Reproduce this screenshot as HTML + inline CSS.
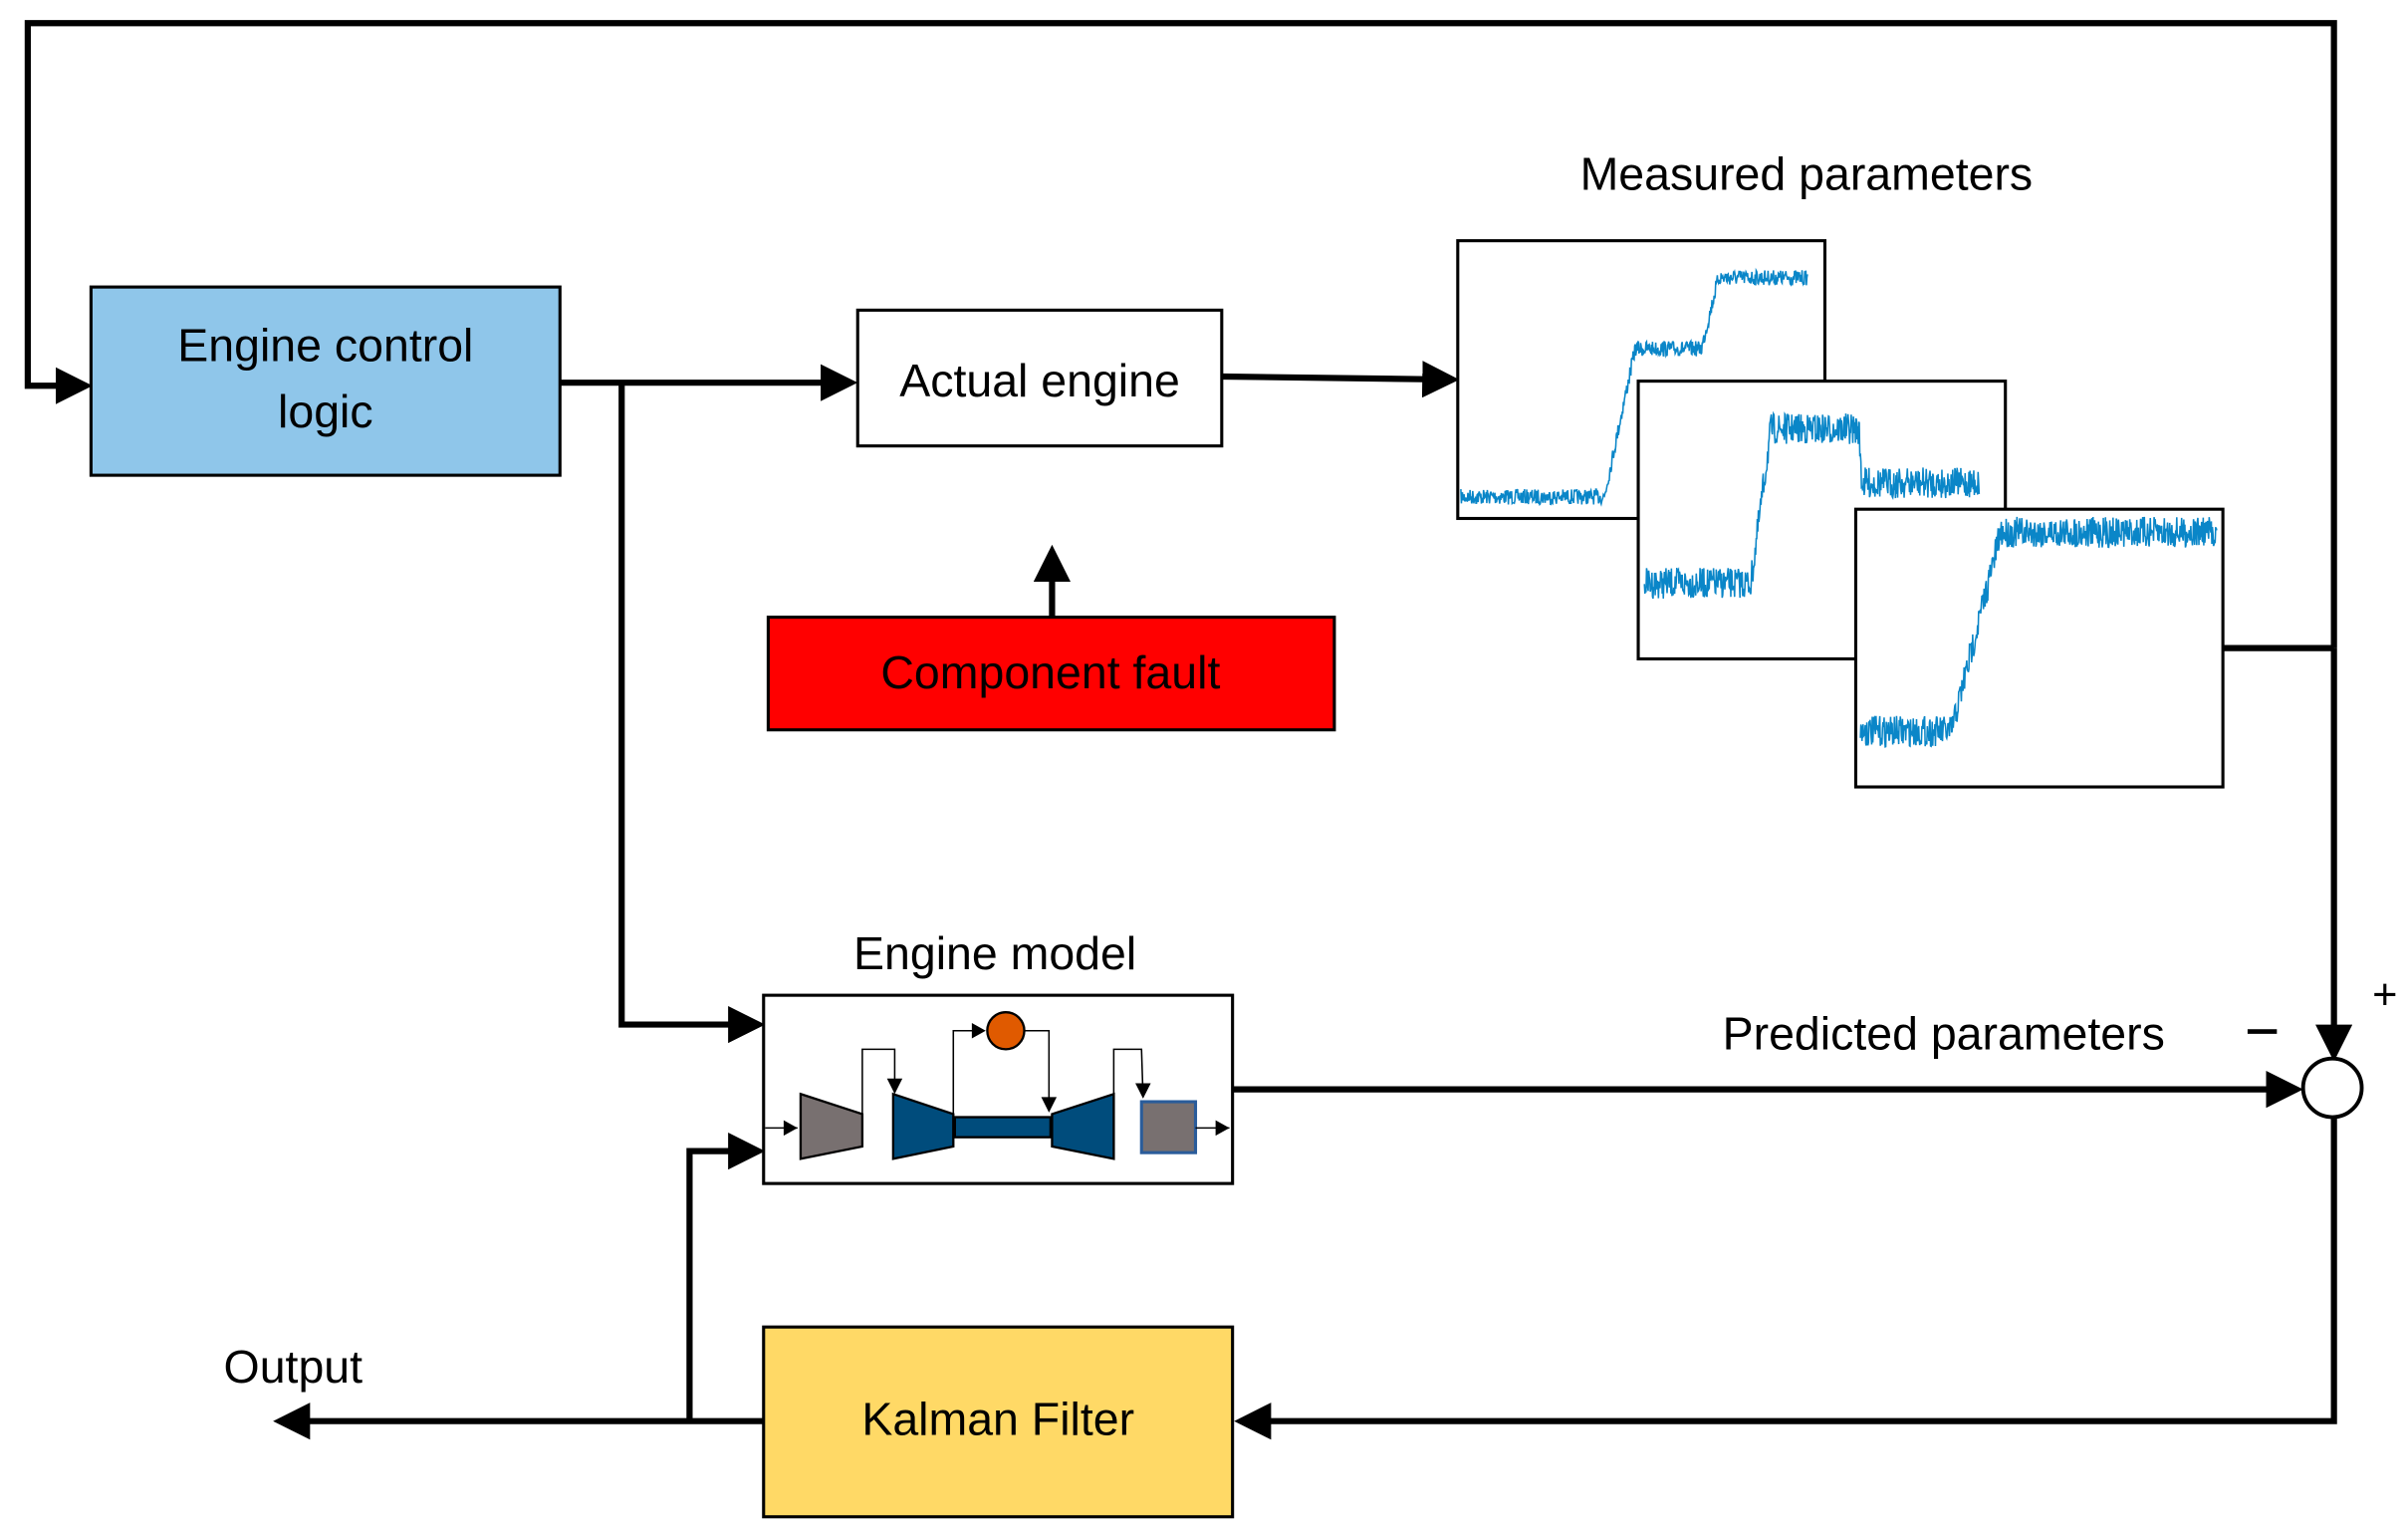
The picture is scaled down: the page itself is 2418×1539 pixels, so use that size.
<!DOCTYPE html>
<html><head><meta charset="utf-8"><style>
html,body{margin:0;padding:0;background:#fff;}
svg{display:block;}
text{font-family:"Liberation Sans","DejaVu Sans",sans-serif;fill:#000;}
</style></head><body>
<svg id="s" width="2418" height="1539" viewBox="0 0 1561 993.5" preserveAspectRatio="none" xmlns="http://www.w3.org/2000/svg">
<defs>
<marker id="a" markerWidth="6" markerHeight="6" refX="5" refY="3" orient="auto" markerUnits="strokeWidth"><path d="M0,0 L6,3 L0,6 z" fill="#000"/></marker>
</defs>
<g fill="none" stroke="#000" stroke-width="4">
<polyline points="1441,420 1513,420"/>
<polyline points="1513,420 1513,15 18,15 18,250 56,250" marker-end="url(#a)"/>
<polyline points="1513,420 1513,684" marker-end="url(#a)"/>
<polyline points="363,248 552,248" marker-end="url(#a)"/>
<polyline points="792,244 942,246" marker-end="url(#a)"/>
<polyline points="403,248 403,664 492,664" marker-end="url(#a)"/>
<polyline points="682,400 682,357" marker-end="url(#a)"/>
<polyline points="799,706 1489,706" marker-end="url(#a)"/>
<polyline points="1513,724 1513,921 804,921" marker-end="url(#a)"/>
<polyline points="495,921 181,921" marker-end="url(#a)"/>
<polyline points="447,921 447,746 492,746" marker-end="url(#a)"/>
</g>
<circle cx="1512" cy="705" r="19" fill="#fff" stroke="#000" stroke-width="2.5"/>
<rect x="59" y="186" width="304" height="122" fill="#8fc6ea" stroke="#000" stroke-width="2"/>
<text x="211" y="234" font-size="30" text-anchor="middle">Engine control</text>
<text x="211" y="277" font-size="30" text-anchor="middle">logic</text>
<rect x="556" y="201" width="236" height="88" fill="#fff" stroke="#000" stroke-width="2"/>
<text x="674" y="257" font-size="30" text-anchor="middle">Actual engine</text>
<rect x="498" y="400" width="367" height="73" fill="#ff0000" stroke="#000" stroke-width="2"/>
<text x="681" y="446" font-size="30" text-anchor="middle">Component fault</text>
<text x="1171" y="123" font-size="30" text-anchor="middle">Measured parameters</text>
<text x="645" y="628" font-size="30" text-anchor="middle">Engine model</text>
<text x="1260" y="680" font-size="30" text-anchor="middle">Predicted parameters</text>
<rect x="1457" y="667" width="19" height="3" fill="#000"/>
<text x="1546" y="654" font-size="28" text-anchor="middle">+</text>
<text x="190" y="896" font-size="30" text-anchor="middle">Output</text>
<rect x="495" y="860" width="304" height="123" fill="#ffd966" stroke="#000" stroke-width="2"/>
<text x="647" y="930" font-size="30" text-anchor="middle">Kalman Filter</text>
<!-- engine model -->
<rect x="495" y="645" width="304" height="122" fill="#fff" stroke="#000" stroke-width="2"/>
<g stroke="#000" stroke-width="1.5">
<polygon points="519,709 559,722 559,743 519,751" fill="#787070"/>
<polygon points="579,709 618,722 618,743 579,751" fill="#004c7c"/>
<rect x="619" y="724" width="62" height="13" fill="#004c7c"/>
<polygon points="682,722 722,709 722,751 682,743" fill="#004c7c"/>
<rect x="740" y="714" width="35" height="33" fill="#787070" stroke="#2a5c9a" stroke-width="2"/>
<circle cx="652" cy="668" r="12" fill="#e05a00"/>
</g>
<g stroke="#000" stroke-width="1" fill="none">
<polyline points="496,731 517,731"/>
<polyline points="559,722 559,680 580,680 580,708"/>
<polyline points="618,722 618,668 638,668"/>
<polyline points="664,668 680,668 680,720"/>
<polyline points="722,709 722,680 740,680 741,711"/>
<polyline points="775,731 797,731"/>
</g>
<g fill="#000">
<path d="M508,726 L517,731 L508,736z"/>
<path d="M575,699 L580,709 L585,699z"/>
<path d="M630,663 L639,668 L630,673z"/>
<path d="M675,711 L680,721 L685,711z"/>
<path d="M736,702 L741,712 L746,702z"/>
<path d="M788,726 L797,731 L788,736z"/>
</g>
<!-- plots -->
<rect x="945" y="156" width="238" height="180" fill="#fff" stroke="#000" stroke-width="2"/>
<path id="p1" fill="none" stroke="#0a86c8" stroke-width="1"/>
<rect x="1062" y="247" width="238" height="180" fill="#fff" stroke="#000" stroke-width="2"/>
<path id="p2" fill="none" stroke="#0a86c8" stroke-width="1"/>
<rect x="1203" y="330" width="238" height="180" fill="#fff" stroke="#000" stroke-width="2"/>
<path id="p3" fill="none" stroke="#0a86c8" stroke-width="1"/>
</svg>
<script>
var seed=7;function r(){seed=(seed*16807)%2147483647;return seed/2147483647-0.5;}
function gen(id,pts,amp){var d="",x0=pts[0][0],x1=pts[pts.length-1][0];
for(var x=x0;x<=x1;x+=0.35){var i=0;while(i<pts.length-2&&x>pts[i+1][0])i++;
var a=pts[i],b=pts[i+1],t=(x-a[0])/(b[0]-a[0]);var y=a[1]+(b[1]-a[1])*t+r()*2*amp;
d+=(d?"L":"M")+x.toFixed(2)+","+y.toFixed(2);}
document.getElementById(id).setAttribute("d",d);}
gen("p1",[[947,322],[1040,322],[1060,226],[1103,226],[1114,180],[1172,180]],5);
gen("p2",[[1066,378],[1135,378],[1148,278],[1205,278],[1207,313],[1283,313]],10);
gen("p3",[[1206,474],[1265,474],[1297,345],[1437,345]],10);
</script>
</body></html>
